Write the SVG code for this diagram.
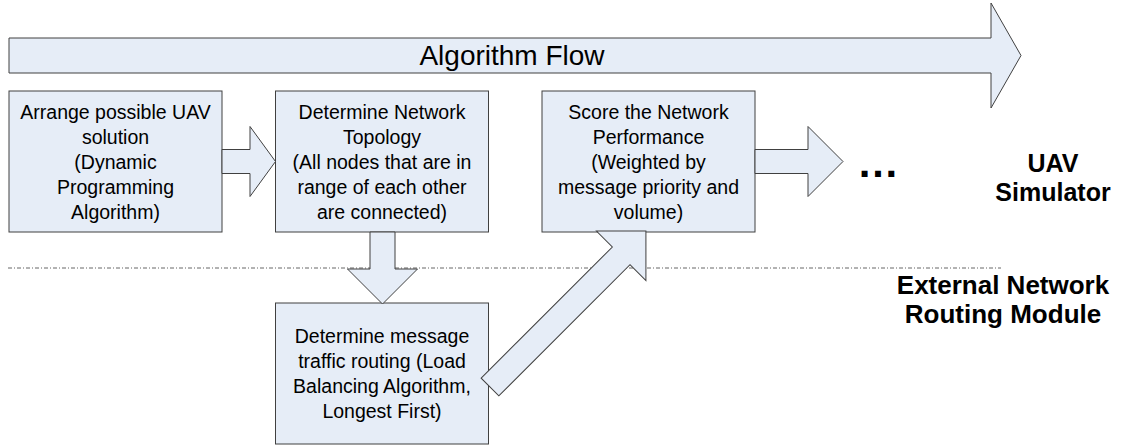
<svg xmlns="http://www.w3.org/2000/svg" width="1125" height="446" viewBox="0 0 1125 446">
<style>
.shape{fill:#e6edf7;stroke:#404040;stroke-width:1}
.t{font-family:"Liberation Sans",Arial,sans-serif;font-size:19.5px;fill:#000;text-anchor:middle}
.b{font-family:"Liberation Sans",Arial,sans-serif;font-weight:bold;font-size:25px;fill:#000;text-anchor:middle}
.sep{stroke:#666;stroke-width:1;stroke-dasharray:4 2 1 2;fill:none}
</style>
<rect width="1125" height="446" fill="#fff"/>
<g id="flow">
<polygon class="shape" points="9,38 991,38 991,3 1021,55.5 991,108 991,73 9,73"/>
<text x="512" y="65" font-family="Liberation Sans, Arial, sans-serif" font-size="28" text-anchor="middle">Algorithm Flow</text>
</g>
<line class="sep" x1="8" y1="268" x2="1001" y2="268"/>
<g id="box1">
<rect class="shape" x="9" y="91" width="213" height="141"/>
<text class="t"><tspan x="115.5" y="118.5">Arrange possible UAV</tspan><tspan x="115.5" y="143.5">solution</tspan><tspan x="115.5" y="168.5">(Dynamic</tspan><tspan x="115.5" y="193.5">Programming</tspan><tspan x="115.5" y="218.5">Algorithm)</tspan></text>
</g>
<g id="box2">
<rect class="shape" x="275.5" y="91" width="213" height="141"/>
<text class="t"><tspan x="382" y="118.5">Determine Network</tspan><tspan x="382" y="143.5">Topology</tspan><tspan x="382" y="168.5">(All nodes that are in</tspan><tspan x="382" y="193.5">range of each other</tspan><tspan x="382" y="218.5">are connected)</tspan></text>
</g>
<g id="box3">
<rect class="shape" x="542" y="91" width="213" height="141"/>
<text class="t"><tspan x="648.5" y="118.5">Score the Network</tspan><tspan x="648.5" y="143.5">Performance</tspan><tspan x="648.5" y="168.5">(Weighted by</tspan><tspan x="648.5" y="193.5">message priority and</tspan><tspan x="648.5" y="218.5">volume)</tspan></text>
</g>
<g id="box4">
<rect class="shape" x="275.5" y="303" width="213" height="141"/>
<text class="t"><tspan x="382" y="343">Determine message</tspan><tspan x="382" y="368">traffic routing (Load</tspan><tspan x="382" y="393">Balancing Algorithm,</tspan><tspan x="382" y="418">Longest First)</tspan></text>
</g>
<g id="connectors">
<polygon class="shape" points="222,149.5 250,149.5 250,126.5 275.5,161.5 250,196.5 250,173.5 222,173.5"/>
<polygon class="shape" points="755,149.5 808,149.5 808,126.5 843,161.5 808,196.5 808,173.5 755,173.5"/>
<polygon class="shape" points="370,232 395,232 395,269 417.5,269 382.5,304 347.5,269 370,269"/>
<polygon class="shape" transform="translate(490,387) rotate(-45)" points="0,-12.5 185.5,-12.5 185.5,-35 220.5,0 185.5,35 185.5,12.5 0,12.5"/>
</g>
<g id="ellipsis">
<text x="878" y="177" font-family="Liberation Sans, Arial, sans-serif" font-weight="bold" font-size="42" text-anchor="middle">…</text>
</g>
<g id="label-uav">
<text class="b"><tspan x="1053" y="172">UAV</tspan><tspan x="1053" y="201">Simulator</tspan></text>
</g>
<g id="label-ext">
<text class="b" font-size="26"><tspan x="1003" y="294" style="font-size:26px">External Network</tspan><tspan x="1003" y="323" style="font-size:26px">Routing Module</tspan></text>
</g>
</svg>
